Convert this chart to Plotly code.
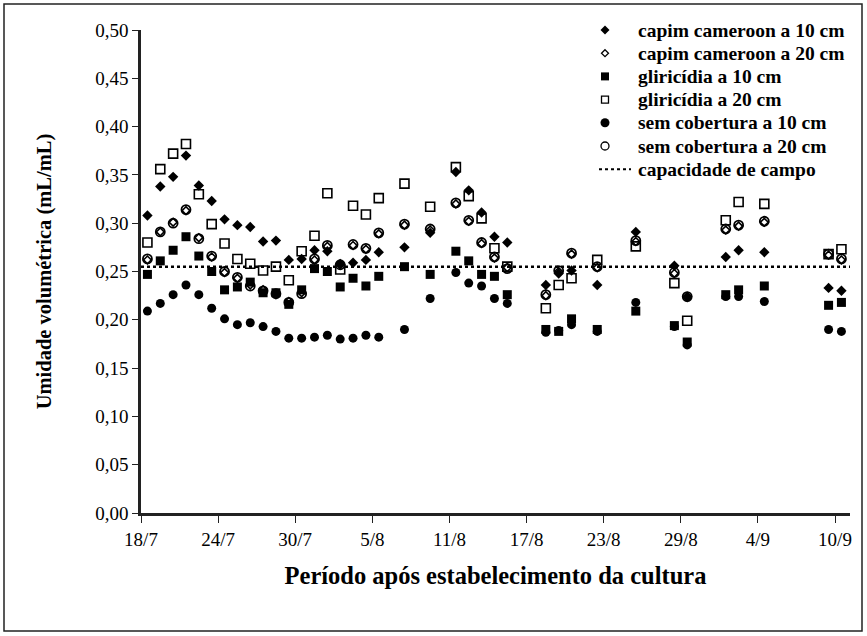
import plotly.graph_objects as go

# ---------------- data ----------------
dates = [
    "2009-07-18", "2009-07-19", "2009-07-20", "2009-07-21", "2009-07-22", "2009-07-23",
    "2009-07-24", "2009-07-25", "2009-07-26", "2009-07-27", "2009-07-28", "2009-07-29",
    "2009-07-30", "2009-07-31", "2009-08-01", "2009-08-02", "2009-08-03", "2009-08-04",
    "2009-08-05", "2009-08-07", "2009-08-09", "2009-08-11", "2009-08-12", "2009-08-13",
    "2009-08-14", "2009-08-15", "2009-08-18", "2009-08-19", "2009-08-20", "2009-08-22",
    "2009-08-25", "2009-08-28", "2009-08-29", "2009-09-01", "2009-09-02", "2009-09-04",
    "2009-09-09", "2009-09-10",
]

capim_10 = [0.308, 0.338, 0.348, 0.370, 0.339, 0.323, 0.304, 0.298, 0.296, 0.281, 0.282, 0.262,
            0.263, 0.272, 0.271, 0.257, 0.259, 0.262, 0.270, 0.275, 0.290, 0.353, 0.334, 0.311,
            0.286, 0.280, 0.236, 0.248, 0.251, 0.236, 0.291, 0.256, 0.224, 0.265, 0.272, 0.270,
            0.233, 0.230]
capim_20 = [0.262, 0.291, 0.301, 0.313, 0.285, 0.265, 0.249, 0.243, 0.236, 0.231, 0.226, 0.219,
            0.228, 0.262, 0.276, 0.258, 0.277, 0.273, 0.289, 0.298, 0.293, 0.320, 0.302, 0.279,
            0.264, 0.254, 0.225, 0.250, 0.268, 0.254, 0.281, 0.248, 0.223, 0.293, 0.297, 0.301,
            0.267, 0.262]
glir_10 = [0.247, 0.261, 0.272, 0.286, 0.266, 0.250, 0.231, 0.234, 0.239, 0.228, 0.228, 0.216,
           0.231, 0.253, 0.250, 0.234, 0.243, 0.235, 0.245, 0.255, 0.247, 0.271, 0.261, 0.247,
           0.245, 0.226, 0.190, 0.188, 0.201, 0.190, 0.209, 0.194, 0.177, 0.226, 0.231, 0.235,
           0.215, 0.218]
glir_20 = [0.280, 0.356, 0.372, 0.382, 0.330, 0.299, 0.279, 0.263, 0.258, 0.251, 0.255, 0.241,
           0.271, 0.287, 0.331, 0.252, 0.318, 0.309, 0.326, 0.341, 0.317, 0.358, 0.328, 0.305,
           0.274, 0.255, 0.212, 0.236, 0.243, 0.262, 0.276, 0.238, 0.199, 0.303, 0.322, 0.320,
           0.268, 0.273]
sem_10 = [0.209, 0.217, 0.226, 0.236, 0.226, 0.212, 0.201, 0.195, 0.197, 0.193, 0.188, 0.181,
          0.181, 0.182, 0.184, 0.180, 0.181, 0.184, 0.182, 0.190, 0.222, 0.249, 0.238, 0.235,
          0.222, 0.217, 0.187, 0.189, 0.195, 0.188, 0.218, 0.193, 0.174, 0.224, 0.224, 0.219,
          0.190, 0.188]
sem_20 = [0.263, 0.291, 0.300, 0.314, 0.284, 0.266, 0.250, 0.244, 0.235, 0.230, 0.227, 0.218,
          0.227, 0.263, 0.277, 0.257, 0.278, 0.274, 0.290, 0.299, 0.294, 0.321, 0.303, 0.280,
          0.265, 0.253, 0.226, 0.251, 0.269, 0.255, 0.282, 0.249, 0.224, 0.294, 0.298, 0.302,
          0.268, 0.263]
capacidade = 0.255

series_names = ["capim cameroon a 10 cm", "capim cameroon a 20 cm", "gliricídia a 10 cm",
                "gliricídia a 20 cm", "sem cobertura a 10 cm", "sem cobertura a 20 cm"]
line_name = "capacidade de campo"

x_range = ["2009-07-18", "2009-09-11 04:00"]
tick_dates = ["2009-07-18", "2009-07-24", "2009-07-30", "2009-08-05", "2009-08-11",
              "2009-08-17", "2009-08-23", "2009-08-29", "2009-09-04", "2009-09-10"]
tick_labels = ["18/7", "24/7", "30/7", "5/8", "11/8", "17/8", "23/8", "29/8", "4/9", "10/9"]
y_ticks = [0.00, 0.05, 0.10, 0.15, 0.20, 0.25, 0.30, 0.35, 0.40, 0.45, 0.50]
y_tick_labels = ["0,00", "0,05", "0,10", "0,15", "0,20", "0,25", "0,30", "0,35", "0,40", "0,45", "0,50"]

# ---------------- figure ----------------
FONT = "'Liberation Serif', 'Times New Roman', Times, serif"
DAY_MS = 86400000

styles = [  # symbol, size, line width, filled
    ("diamond", 8, 0, True),
    ("diamond-open", 6, 1.6, False),
    ("square", 9, 0, True),
    ("square-open", 9, 1.6, False),
    ("circle", 9, 0, True),
    ("circle-open", 9, 1.8, False),
]
values = [capim_10, capim_20, glir_10, glir_20, sem_10, sem_20]

fig = go.Figure()
for name, vals, (sym, size, lw, _) in zip(series_names, values, styles):
    fig.add_trace(go.Scatter(
        x=dates, y=vals, name=name, mode="markers", showlegend=False,
        xperiod=DAY_MS, xperiodalignment="middle",
        marker=dict(symbol=sym, size=size, color="black", line=dict(color="black", width=lw)),
    ))

fig.add_trace(go.Scatter(
    x=x_range, y=[capacidade, capacidade], name=line_name, mode="lines", showlegend=False,
    line=dict(color="black", width=2.5, dash="dot"),
))

L, R, T, B = 141, 17, 30, 123
W, H = 867, 636
pw, ph = W - L - R, H - T - B


def px(x):
    return (x - L) / pw


def py(y):
    return (H - B - y) / ph


shapes = [dict(
    type="rect", xref="paper", yref="paper",
    x0=px(4), x1=px(862), y0=py(631), y1=py(4),
    line=dict(color="#222", width=1.5), fillcolor="rgba(0,0,0,0)", layer="below",
)]
annotations = []

# manual legend (compact Excel-like spacing)
LEG_Y0, LEG_DY, SYM_X, TXT_X = 30, 23.2, 605, 636
LEG_FONT = dict(family=FONT, size=19.5, color="black")
for i, (name, (sym, size, lw, filled)) in enumerate(zip(series_names, styles)):
    yc = LEG_Y0 + LEG_DY * i
    base = dict(xref="paper", yref="paper", xsizemode="pixel", ysizemode="pixel",
                xanchor=px(SYM_X), yanchor=py(yc),
                fillcolor="black" if filled else "white",
                line=dict(color="black", width=0 if filled else 1.3))
    if sym.startswith("diamond"):
        r = 4.5 if filled else 3.5
        shapes.append(dict(type="path", path=f"M0,{r} L{r},0 L0,{-r} L{-r},0 Z", **base))
    elif sym.startswith("square"):
        r = 4 if filled else 3.5
        shapes.append(dict(type="rect", x0=-r, x1=r, y0=-r, y1=r, **base))
    else:
        r = 4.5 if filled else 4
        shapes.append(dict(type="circle", x0=-r, x1=r, y0=-r, y1=r, **base))
    annotations.append(dict(
        xref="paper", yref="paper", x=px(TXT_X), y=py(yc), xanchor="left", yanchor="middle",
        text=f"<b>{name}</b>", showarrow=False, font=LEG_FONT,
    ))

yc = LEG_Y0 + LEG_DY * len(series_names)
shapes.append(dict(type="line", xref="paper", yref="paper",
                   x0=px(599), x1=px(631), y0=py(yc), y1=py(yc),
                   line=dict(color="black", width=2, dash="dot")))
annotations.append(dict(
    xref="paper", yref="paper", x=px(TXT_X), y=py(yc), xanchor="left", yanchor="middle",
    text=f"<b>{line_name}</b>", showarrow=False, font=LEG_FONT,
))

fig.update_layout(
    width=W, height=H,
    margin=dict(l=L, r=R, t=T, b=B, pad=0),
    paper_bgcolor="white", plot_bgcolor="white",
    font=dict(family=FONT, color="black", size=19),
    showlegend=False,
    xaxis=dict(
        type="date", range=x_range,
        tickmode="array", tickvals=tick_dates, ticktext=tick_labels,
        showgrid=False, zeroline=False,
        showline=True, linecolor="#222", linewidth=2.5,
        ticks="outside", ticklen=7, tickwidth=1, tickcolor="#222",
        tickfont=dict(family=FONT, size=19, color="black"),
        title=dict(text="<b>Período após estabelecimento da cultura</b>",
                   font=dict(family=FONT, size=24.5, color="black"),
                   standoff=19),
        automargin=False,
    ),
    yaxis=dict(
        range=[0, 0.5],
        tickmode="array", tickvals=y_ticks, ticktext=y_tick_labels,
        showgrid=False, zeroline=False,
        showline=True, linecolor="#222", linewidth=2.5,
        ticks="outside", ticklen=6, tickwidth=1, tickcolor="#222",
        tickfont=dict(family=FONT, size=19, color="black"),
        title=dict(text="<b>Umidade volumétrica (mL/mL)</b>",
                   font=dict(family=FONT, size=20.5, color="black"),
                   standoff=39),
        automargin=False,
    ),
    shapes=shapes,
    annotations=annotations,
)

fig.write_html("out.html", config={"displayModeBar": False},
               post_script="document.body.style.margin='0';document.body.style.overflow='hidden';")
